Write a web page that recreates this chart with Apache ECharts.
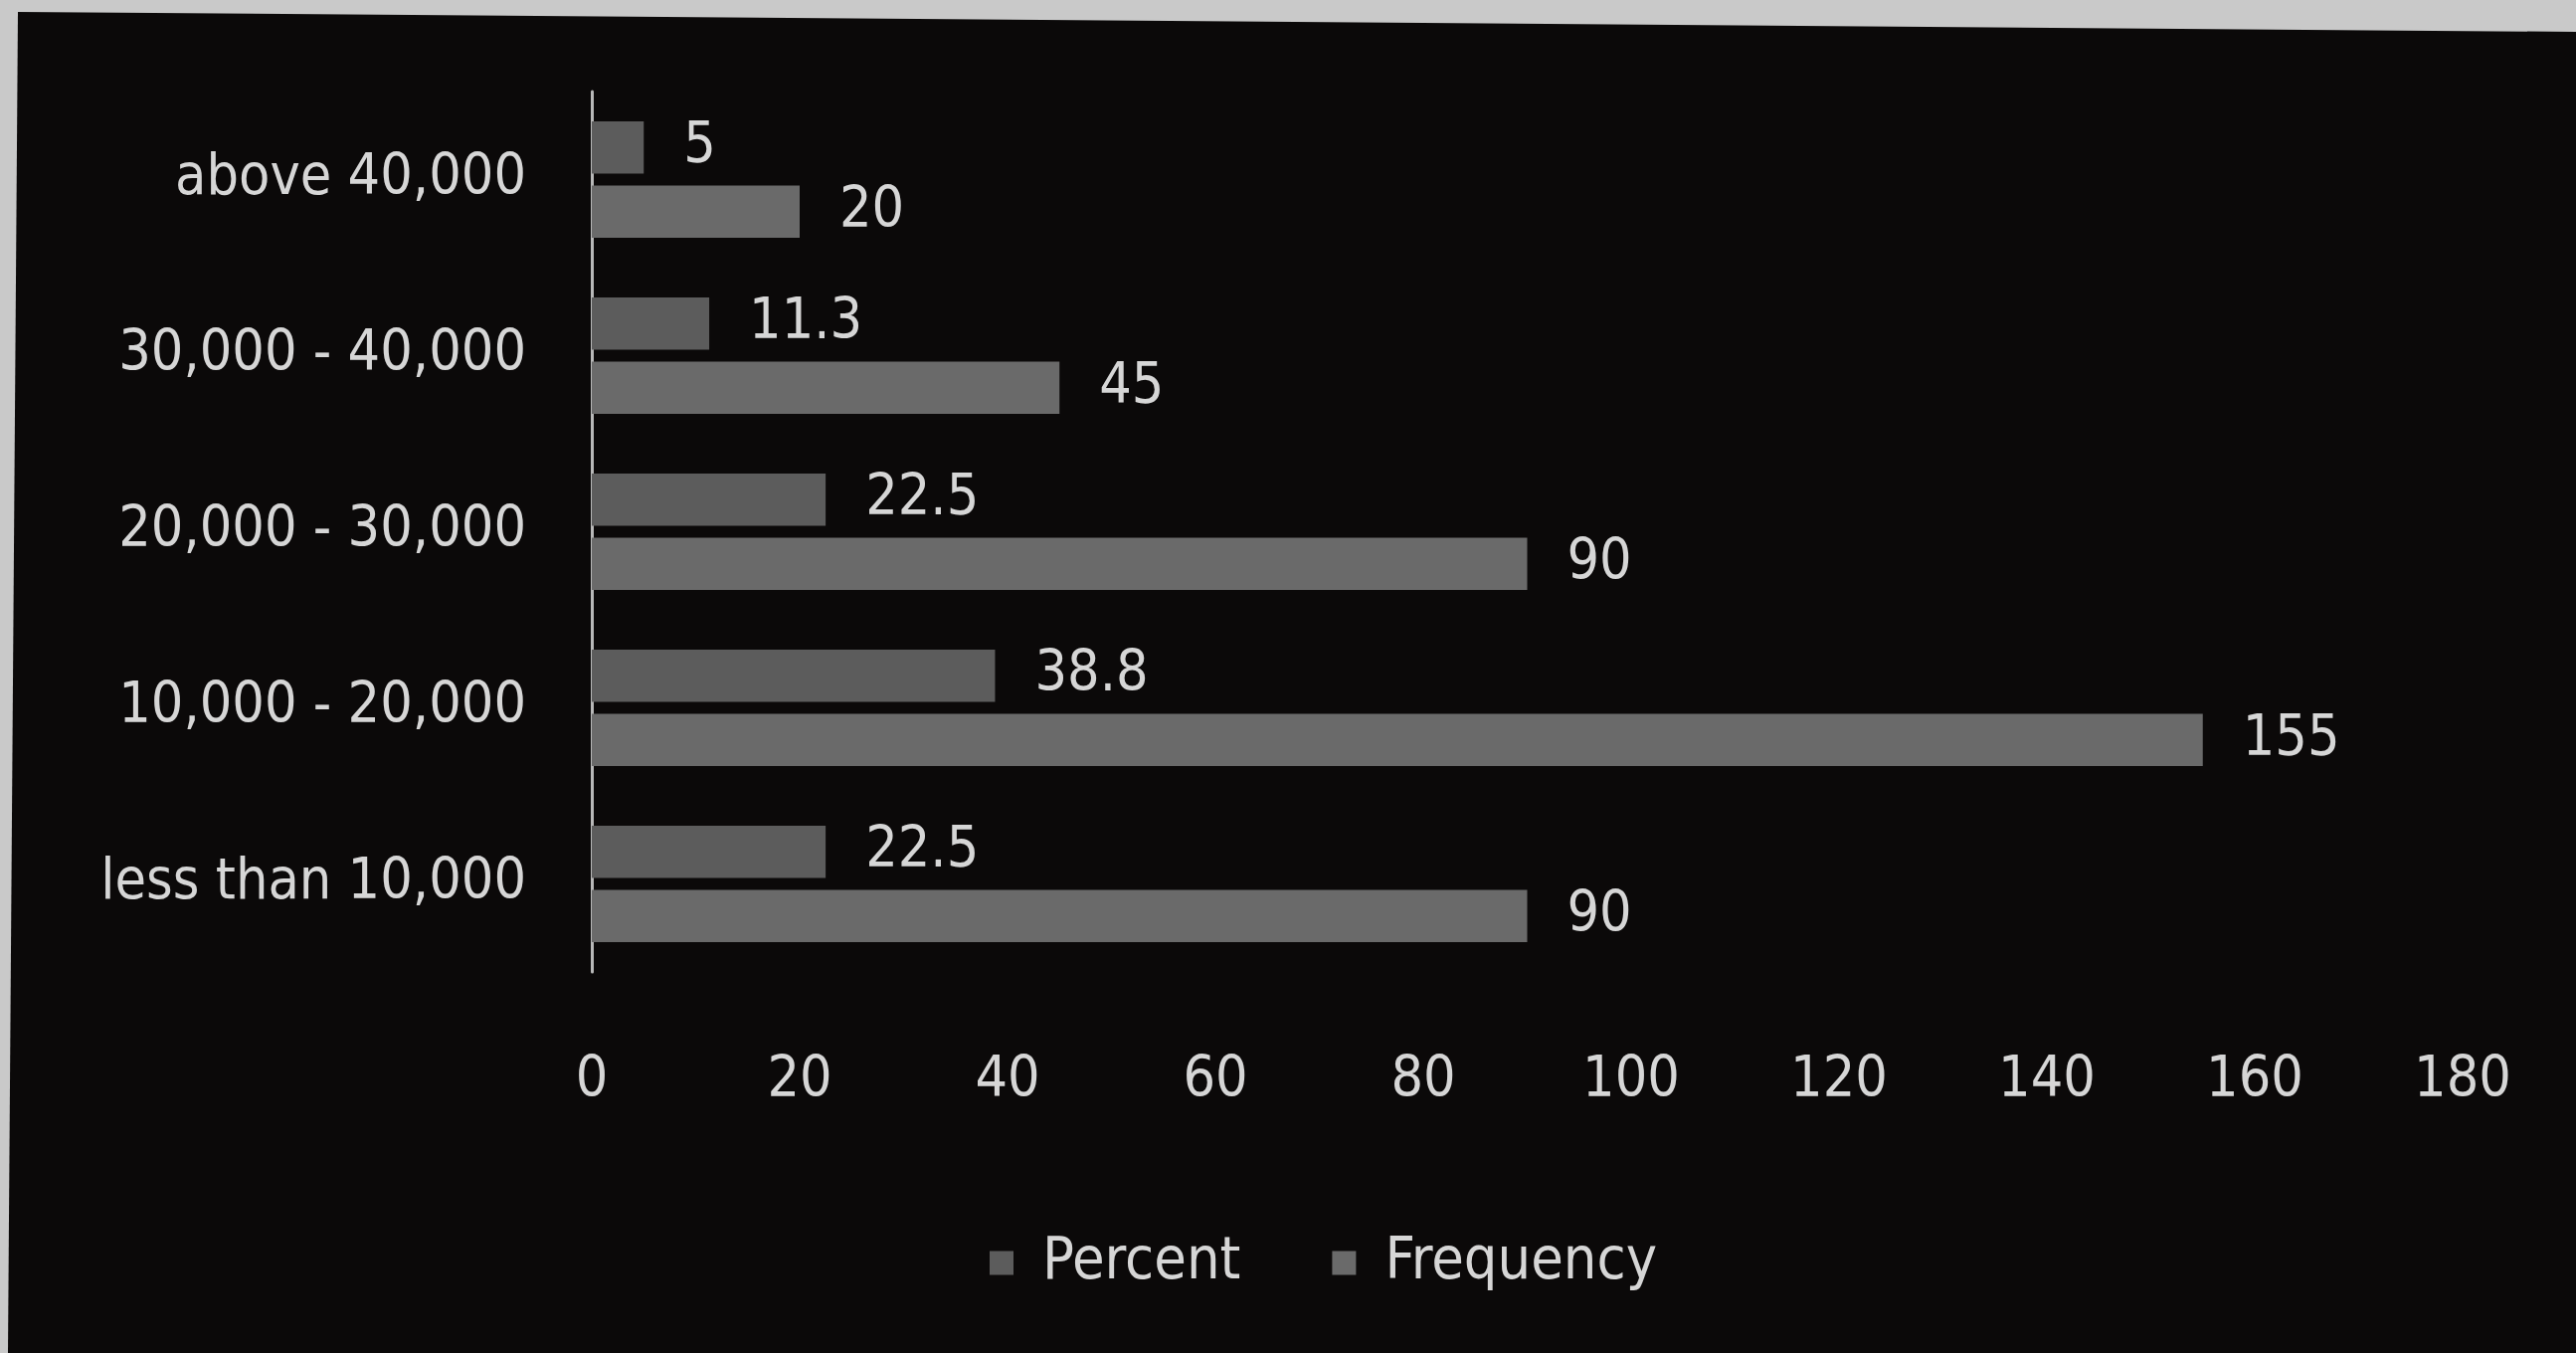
<!DOCTYPE html>
<html>
<head>
<meta charset="utf-8">
<script src="https://cdn.jsdelivr.net/npm/echarts@6/dist/echarts.min.js"></script>
<style>
  html, body { margin: 0; padding: 0; width: 2590px; height: 1360px; overflow: hidden; background: #c9c9c9; }
  #panel { position: absolute; left: 0; top: 0; width: 2590px; height: 1360px; background: #0b0909;
           clip-path: polygon(18px 12px, 2590px 32px, 2590px 1360px, 8px 1360px); }
  #chart { position: absolute; left: 0; top: 0; width: 2590px; height: 1360px; }
</style>
</head>
<body>
<div id="panel"></div>
<div id="chart"></div>
<script>
// Income groups, listed bottom to top as the category axis runs
const incomeGroups = ['less than 10,000', '10,000 - 20,000', '20,000 - 30,000', '30,000 - 40,000', 'above 40,000'];
const frequency = [90, 155, 90, 45, 20];
const percent = [22.5, 38.8, 22.5, 11.3, 5];
const xTicks = { min: 0, max: 180, interval: 20 };

const textFont = '"DejaVu Sans Condensed", "Liberation Sans Narrow", sans-serif';
const textColor = '#d6d6d6';
const textSize = 57;

const chart = echarts.init(document.getElementById('chart'), null, { renderer: 'canvas' });

const valueLabel = {
  show: true,
  position: 'right',
  distance: 40,
  color: textColor,
  fontFamily: textFont,
  fontSize: textSize
};

chart.setOption({
  backgroundColor: 'transparent',
  animation: false,
  grid: { left: 595, right: 114, top: 92, bottom: 383, containLabel: false },
  legend: {
    data: ['Percent', 'Frequency'],
    bottom: 56,
    left: 990,
    itemWidth: 24,
    itemHeight: 24,
    itemGap: 92,
    icon: 'rect',
    textStyle: { color: textColor, fontFamily: textFont, fontSize: 59, padding: [0, 0, 0, 24] }
  },
  xAxis: {
    type: 'value',
    min: xTicks.min,
    max: xTicks.max,
    interval: xTicks.interval,
    axisLine: { show: false },
    axisTick: { show: false },
    splitLine: { show: false },
    axisLabel: { color: textColor, fontFamily: textFont, fontSize: textSize, margin: 82 }
  },
  yAxis: {
    type: 'category',
    data: incomeGroups,
    axisLine: { show: true, lineStyle: { color: '#b8b8b8', width: 3 } },
    axisTick: { show: false },
    axisLabel: { color: textColor, fontFamily: textFont, fontSize: textSize, margin: 66 }
  },
  series: [
    {
      name: 'Percent',
      type: 'bar',
      data: percent,
      barGap: '23%',
      barCategoryGap: '34%',
      itemStyle: { color: '#5c5c5c' },
      label: valueLabel
    },
    {
      name: 'Frequency',
      type: 'bar',
      data: frequency,
      itemStyle: { color: '#6a6a6a' },
      label: valueLabel
    }
  ]
});
</script>
</body>
</html>
